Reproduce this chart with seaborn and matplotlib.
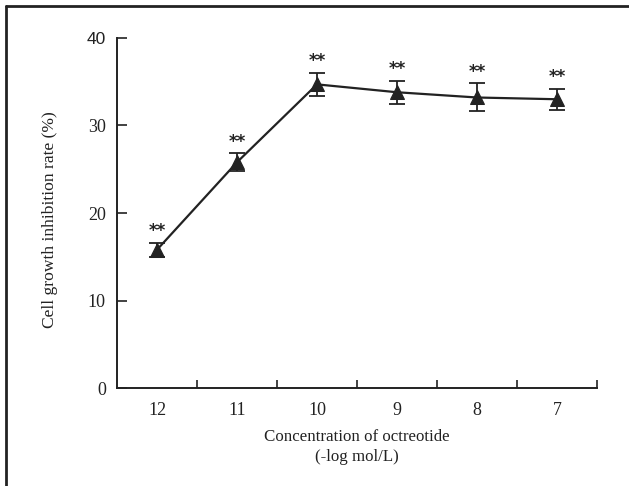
import matplotlib
matplotlib.use("Agg")
import matplotlib.pyplot as plt
from matplotlib.lines import Line2D
import seaborn as sns
import pandas as pd
import numpy as np

# ---- data ----
concentrations = ["12", "11", "10", "9", "8", "7"]
inhibition_rate = [15.8, 25.8, 34.7, 33.8, 33.2, 33.0]
error = [0.8, 1.0, 1.3, 1.3, 1.6, 1.2]
significance = ["**", "**", "**", "**", "**", "**"]
y_ticks = [0, 10, 20, 30, 40]

sns.set_theme(style="white")
plt.rcParams["font.family"] = ["Liberation Serif", "DejaVu Serif"]

ink = "#222222"
df = pd.DataFrame({"pos": np.arange(len(concentrations)),
                   "conc": concentrations,
                   "rate": inhibition_rate,
                   "err": error})

fig = plt.figure(figsize=(6.29, 4.86), dpi=100)
ax = fig.add_axes([117 / 629, 1 - 388 / 486, 480 / 629, 350 / 486])

ax.errorbar(df["pos"], df["rate"], yerr=df["err"], fmt="none",
            ecolor=ink, elinewidth=1.3, capsize=6, capthick=1.3, zorder=2)
sns.lineplot(data=df, x="pos", y="rate", ax=ax, color=ink, linewidth=1.6,
             marker="^", markersize=10, markeredgecolor=ink,
             markerfacecolor=ink, zorder=3)

for p, v, e, s in zip(df["pos"], df["rate"], df["err"], significance):
    ax.annotate(s, (p, v + e), xytext=(0, 2), textcoords="offset points",
                ha="center", va="bottom", fontsize=12, fontweight="bold",
                color=ink, family=["DejaVu Sans"])

ax.set_xlim(-0.5, len(concentrations) - 0.5)
ax.set_ylim(0, 40)
ax.set_yticks(y_ticks)
ax.set_xticks(df["pos"])
ax.set_xticklabels(concentrations)
ax.set_xticks(np.arange(len(concentrations)) + 0.5, minor=True)

ax.tick_params(axis="x", which="major", length=0, pad=10, labelsize=13,
               labelcolor=ink)
ax.tick_params(axis="x", which="minor", direction="in", length=6, width=1.2,
               color=ink, bottom=True)
ax.tick_params(axis="y", which="major", direction="in", length=7, width=1.2,
               color=ink, left=True, pad=8, labelsize=13, labelcolor=ink)

for lbl in ax.get_yticklabels():
    if lbl.get_text() == "40":
        lbl.set_family(["Liberation Sans"])
        lbl.set_fontsize(12.5)

sns.despine(ax=ax)
for sp in ("left", "bottom"):
    ax.spines[sp].set_color(ink)
    ax.spines[sp].set_linewidth(1.4)

ax.set_xlabel("Concentration of octreotide\n(-log mol/L)", fontsize=12.2,
              color=ink, labelpad=7, linespacing=1.35)
ax.set_ylabel("Cell growth inhibition rate (%)", fontsize=12.6, color=ink)
ax.yaxis.set_label_coords(-0.122, 0.48)

# partial frame around the figure (top and left edges)
fig.add_artist(Line2D([6 / 629, 1.0], [1 - 6 / 486, 1 - 6 / 486],
                      transform=fig.transFigure, color=ink, linewidth=2))
fig.add_artist(Line2D([6.5 / 629, 6.5 / 629], [0.0, 1 - 6 / 486],
                      transform=fig.transFigure, color=ink, linewidth=2))

fig.savefig("out.png", dpi=100)
